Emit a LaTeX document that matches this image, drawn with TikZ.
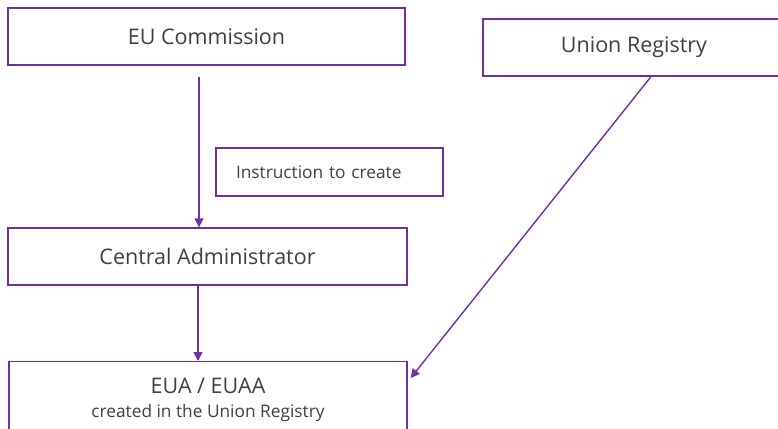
\documentclass[tikz,border=0pt]{standalone}
\usepackage{fontspec}
\setmainfont{Open Sans}
\usetikzlibrary{arrows.meta,calc}
\definecolor{pur}{HTML}{7030A0}
\definecolor{txt}{HTML}{404040}
\begin{document}
\begin{tikzpicture}[x=1pt,y=-1pt,
  box/.style={draw=pur,line width=1.3pt,fill=white,text=txt,font=\fontsize{21.5}{26}\selectfont,inner sep=0pt},
  conn/.style={draw=pur,line width=1.4pt,-{Triangle[width=9pt,length=9pt]}}]
\useasboundingbox (0,0) rectangle (778,428);
\clip (0,0) rectangle (778,428);
\node[box,minimum width=397pt,minimum height=57pt] (eu) at (206.5,36.5) {EU Commission};
\node[box,minimum width=302pt,minimum height=57pt] (ur) at (634,47.5) {Union Registry};
\node[box,font=\fontsize{17.3}{20}\selectfont,text width=187pt,inner xsep=20pt,minimum height=48pt,align=left] (ins) at (329.5,172) {Instruction to create};
\node[box,minimum width=399pt,minimum height=57pt] (ca) at (207.5,256.5) {Central Administrator};
\node[box,minimum width=398pt,minimum height=80pt,anchor=north] (eua) at (208,361) {};
\node[text=txt,font=\fontsize{21.5}{26}\selectfont,inner sep=0pt] (euat1) at ($(eua.north)+(0,25)$) {EUA / EUAA};
\node[text=txt,font=\fontsize{17.3}{20}\selectfont,inner sep=0pt] (euat2) at ($(eua.north)+(0,52)$) {created in the Union Registry};
\coordinate (urfoot) at ($(ur.south)+(17,0)$);
\coordinate (euatip) at ($(eua.north east)+(3,17)$);
\draw[conn] ($(eu.south)+(-7.5,11)$) -- (ca.north -| {$(eu.south)+(-7.5,0)$});
\draw[conn] ($(ca.south)+(-9.5,0)$) -- (eua.north -| {$(ca.south)+(-9.5,0)$});
\draw[conn] (urfoot) -- (euatip);
\end{tikzpicture}
\end{document}
